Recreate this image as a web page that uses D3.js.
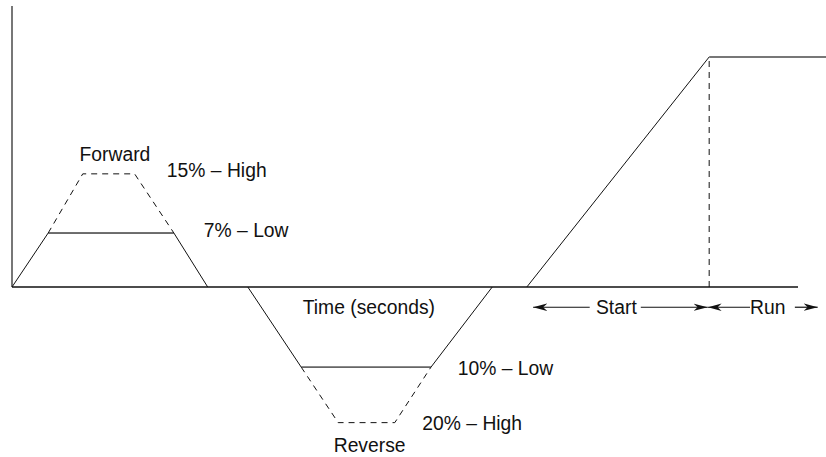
<!DOCTYPE html>
<html>
<head>
<meta charset="utf-8">
<script src="https://cdn.jsdelivr.net/npm/d3@7"></script>
<style>
  html, body { margin: 0; padding: 0; background: #fff; }
  text { font-family: "Liberation Sans", Arial, sans-serif; font-size: 21px; fill: #111; }
</style>
</head>
<body>
<svg id="chart"></svg>
<script>
// time in arbitrary units (0..100 along the axis), speed in arbitrary % units
const forwardSolid = [[0, 0], [4.6, 7.2], [20.6, 7.2], [24.9, 0]];
const forwardDashed = [[4.6, 7.2], [9.0, 15.1], [15.6, 15.1], [20.6, 7.2]];
const reverseSolid = [[30.0, 0], [36.8, -10.7], [53.3, -10.7], [61.1, 0]];
const reverseDashed = [[36.8, -10.7], [41.5, -18.1], [48.7, -18.1], [53.3, -10.7]];
const startRamp = [[65.5, 0], [88.7, 30.7]];
const runLevel = [[88.7, 30.7], [103.6, 30.7]];
const runDivider = [[88.7, 0], [88.7, 30.7]];
const lowLevels = [[[4.6, 7.2], [20.6, 7.2]], [[36.8, -10.7], [53.3, -10.7]]];

const labels = [
  { text: "Forward", t: 13.1, v: 16.8, anchor: "middle" },
  { text: "15% – High", t: 19.7, v: 14.7, anchor: "start" },
  { text: "7% – Low", t: 24.4, v: 6.7, anchor: "start" },
  { text: "Time (seconds)", t: 45.4, v: -3.6, anchor: "middle" },
  { text: "10% – Low", t: 56.7, v: -11.7, anchor: "start" },
  { text: "20% – High", t: 52.2, v: -19.1, anchor: "start" },
  { text: "Reverse", t: 45.5, v: -22.0, anchor: "middle" },
  { text: "Start", t: 74.3, v: -3.6, anchor: "start" },
  { text: "Run", t: 93.9, v: -3.6, anchor: "start" }
];

// [from, to] along the time axis, arrowhead at "to"
const arrows = [[73.5, 66.3], [80.0, 88.5], [93.9, 88.5], [99.6, 102.5]];
const arrowLevel = -2.7;

const width = 826;
const height = 457;

const svg = d3.select("#chart").attr("width", width).attr("height", height);

const x = d3.scaleLinear().domain([0, 100]).range([12, 798]);
const y = d3.scaleLinear().domain([0, 37.5]).range([287, 6]);

const line = d3.line().x(d => x(d[0])).y(d => y(d[1]));

svg.append("defs").append("marker")
  .attr("id", "head")
  .attr("viewBox", "0 0 14 8")
  .attr("refX", 14)
  .attr("refY", 4)
  .attr("markerWidth", 14)
  .attr("markerHeight", 8)
  .attr("markerUnits", "userSpaceOnUse")
  .attr("orient", "auto")
  .append("path")
  .attr("d", "M0,0.3 L14,4 L0,7.7 L4,4 Z")
  .attr("fill", "#111");

// axes
svg.append("line")
  .attr("x1", x(0)).attr("x2", x(0))
  .attr("y1", y(0)).attr("y2", y(37.5))
  .attr("stroke", "#777").attr("stroke-width", 2);

svg.append("line")
  .attr("x1", x(0)).attr("x2", x(100))
  .attr("y1", y(0)).attr("y2", y(0))
  .attr("stroke", "#111").attr("stroke-width", 1.5);

// solid profile lines
[forwardSolid, reverseSolid, startRamp].forEach(d => {
  svg.append("path")
    .attr("d", line(d))
    .attr("fill", "none")
    .attr("stroke", "#111")
    .attr("stroke-width", 1);
});

lowLevels.forEach(d => {
  svg.append("path")
    .attr("d", line(d))
    .attr("fill", "none")
    .attr("stroke", "#666")
    .attr("stroke-width", 1.5);
});

svg.append("path")
  .attr("d", line(runLevel))
  .attr("fill", "none")
  .attr("stroke", "#777")
  .attr("stroke-width", 2);

// dashed lines
[forwardDashed, reverseDashed, runDivider].forEach(d => {
  svg.append("path")
    .attr("d", line(d))
    .attr("fill", "none")
    .attr("stroke", "#111")
    .attr("stroke-width", 1)
    .attr("stroke-dasharray", "6,5");
});

// start / run arrows
svg.selectAll(".arrow")
  .data(arrows)
  .enter()
  .append("line")
  .attr("class", "arrow")
  .attr("x1", d => x(d[0]))
  .attr("x2", d => x(d[1]))
  .attr("y1", y(arrowLevel))
  .attr("y2", y(arrowLevel))
  .attr("stroke", "#111")
  .attr("stroke-width", 1.2)
  .attr("marker-end", "url(#head)");

// condensed look of the original lettering
svg.selectAll(".label")
  .data(labels)
  .enter()
  .append("text")
  .attr("class", "label")
  .attr("transform", d => `translate(${x(d.t)},${y(d.v)}) scale(0.92,1)`)
  .attr("text-anchor", d => d.anchor)
  .text(d => d.text);
</script>
</body>
</html>
